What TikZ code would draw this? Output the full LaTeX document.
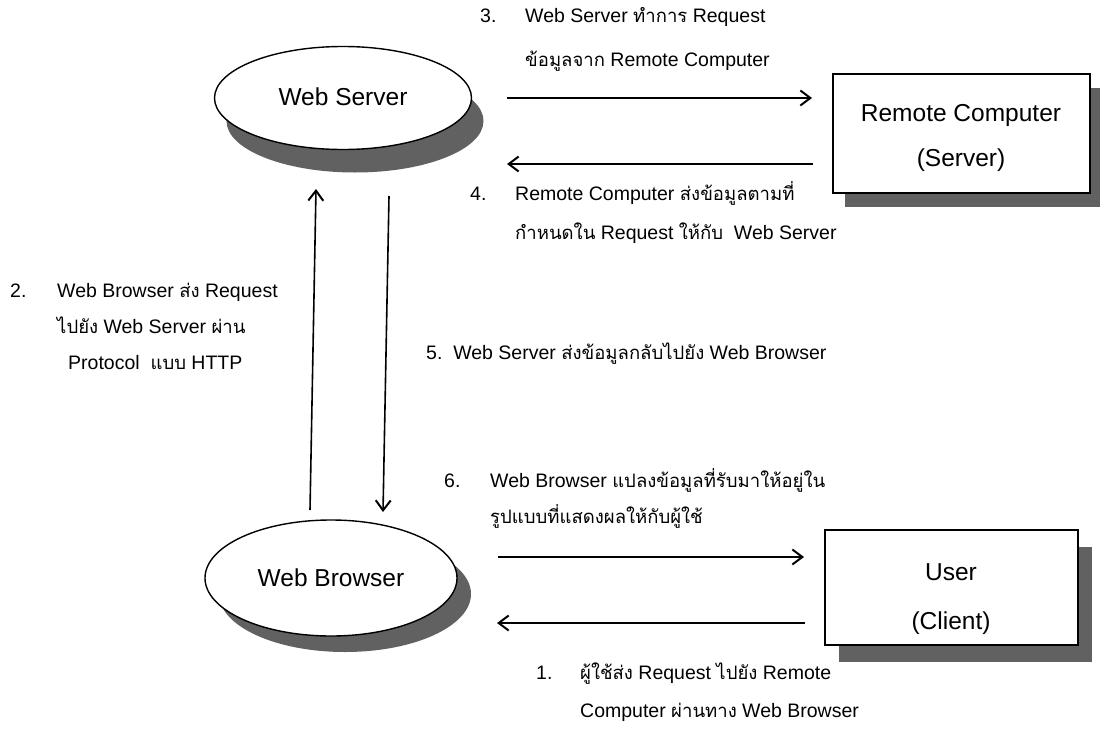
\documentclass[tikz,border=0pt]{standalone}
\usepackage{fontspec}
\setmainfont{Liberation Sans}
\newfontfamily\thaifont[Script=Thai,Scale=0.95]{Loma}
\newcommand\thx[1]{{\thaifont #1}}
\usetikzlibrary{arrows.meta,shapes.geometric}
\begin{document}
\begin{tikzpicture}[x=1pt,y=-1pt,
  lbl/.style={anchor=base west, inner sep=0pt, font=\fontsize{19.5}{23}\selectfont},
  ntext/.style={inner sep=0pt, font=\fontsize{24.5}{28}\selectfont},
  shade/.style={fill=black!62, draw=none},
  oval/.style={ellipse, draw=black, line width=1.4pt, fill=white, inner sep=0pt},
  boxnode/.style={rectangle, draw=black, line width=1.4pt, fill=white, inner sep=0pt},
  arr/.style={line width=1.6pt, -{Straight Barb[length=10pt,width=15pt,line width=2pt]}}]
\useasboundingbox[fill=white] (0,0) rectangle (1100,728);

% shadows
\node[shade, ellipse, minimum width=257pt, minimum height=103pt] (wsS) at (355,121) {};
\node[shade, ellipse, minimum width=252pt, minimum height=116pt] (wbS) at (345,594) {};
\path[shade] (845,88) rectangle (1102,207);
\path[shade] (839,547) rectangle (1092,662);

% main nodes
\node[oval, minimum width=257pt, minimum height=103pt] (ws) at (343,98) {};
\node[ntext] (wsT) at (343,97) {Web Server};
\node[oval, minimum width=252pt, minimum height=116pt] (wb) at (331,578) {};
\node[ntext] (wbT) at (331,578) {Web Browser};
\node[boxnode, minimum width=257pt, minimum height=119pt] (rc) at (961.5,133.5) {};
\node[ntext] (rcT1) at (961,115) {Remote Computer};
\node[ntext] (rcT2) at (961,160) {(Server)};
\node[boxnode, minimum width=253pt, minimum height=115pt] (us) at (951.5,587.5) {};
\node[ntext] (usT1) at (951,572) {User};
\node[ntext] (usT2) at (951,623) {(Client)};

% connector end points
\coordinate (a3s) at (507,98);  \coordinate (a3e) at (812,98);
\coordinate (a4s) at (813,164); \coordinate (a4e) at (507,164);
\coordinate (a2s) at (310,510); \coordinate (a2e) at (316,189);
\coordinate (a5s) at (389,196); \coordinate (a5e) at (383,512);
\coordinate (a6s) at (498,557); \coordinate (a6e) at (804,557);
\coordinate (a1s) at (805,623); \coordinate (a1e) at (497,623);

\draw[arr] (a3s) -- (a3e);
\draw[arr] (a4s) -- (a4e);
\draw[arr] (a2s) -- (a2e);
\draw[arr] (a5s) -- (a5e);
\draw[arr] (a6s) -- (a6e);
\draw[arr] (a1s) -- (a1e);

% labels (baselines)
\node[lbl] (n3) at (480,23) {3.};
\node[lbl] (l3a) at (525,23) {Web Server \thx{ทำการ} Request};
\node[lbl] (l3b) at (525,66) {\thx{ข้อมูลจาก} Remote Computer};

\node[lbl] (n4) at (470,200) {4.};
\node[lbl] (l4a) at (515,200) {Remote Computer \thx{ส่งข้อมูลตามที่}};
\node[lbl] (l4b) at (515,239) {\thx{กำหนดใน} Request \thx{ให้กับ}\ \ Web Server};

\node[lbl] (n2) at (10,297) {2.};
\node[lbl] (l2a) at (57,297) {Web Browser \thx{ส่ง} Request};
\node[lbl] (l2b) at (57,333) {\thx{ไปยัง} Web Server \thx{ผ่าน}};
\node[lbl] (l2c) at (68,369) {Protocol\ \ \thx{แบบ} HTTP};

\node[lbl] (l5) at (426,359) {5.\ \ Web Server \thx{ส่งข้อมูลกลับไปยัง} Web Browser};

\node[lbl] (n6) at (444,487) {6.};
\node[lbl] (l6a) at (490,487) {Web Browser \thx{แปลงข้อมูลที่รับมาให้อยู่ใน}};
\node[lbl] (l6b) at (490,523) {\thx{รูปแบบที่แสดงผลให้กับผู้ใช้}};

\node[lbl] (n1) at (536,679) {1.};
\node[lbl] (l1a) at (580,679) {\thx{ผู้ใช้ส่ง} Request \thx{ไปยัง} Remote};
\node[lbl] (l1b) at (580,717) {Computer \thx{ผ่านทาง} Web Browser};
\end{tikzpicture}
\end{document}
